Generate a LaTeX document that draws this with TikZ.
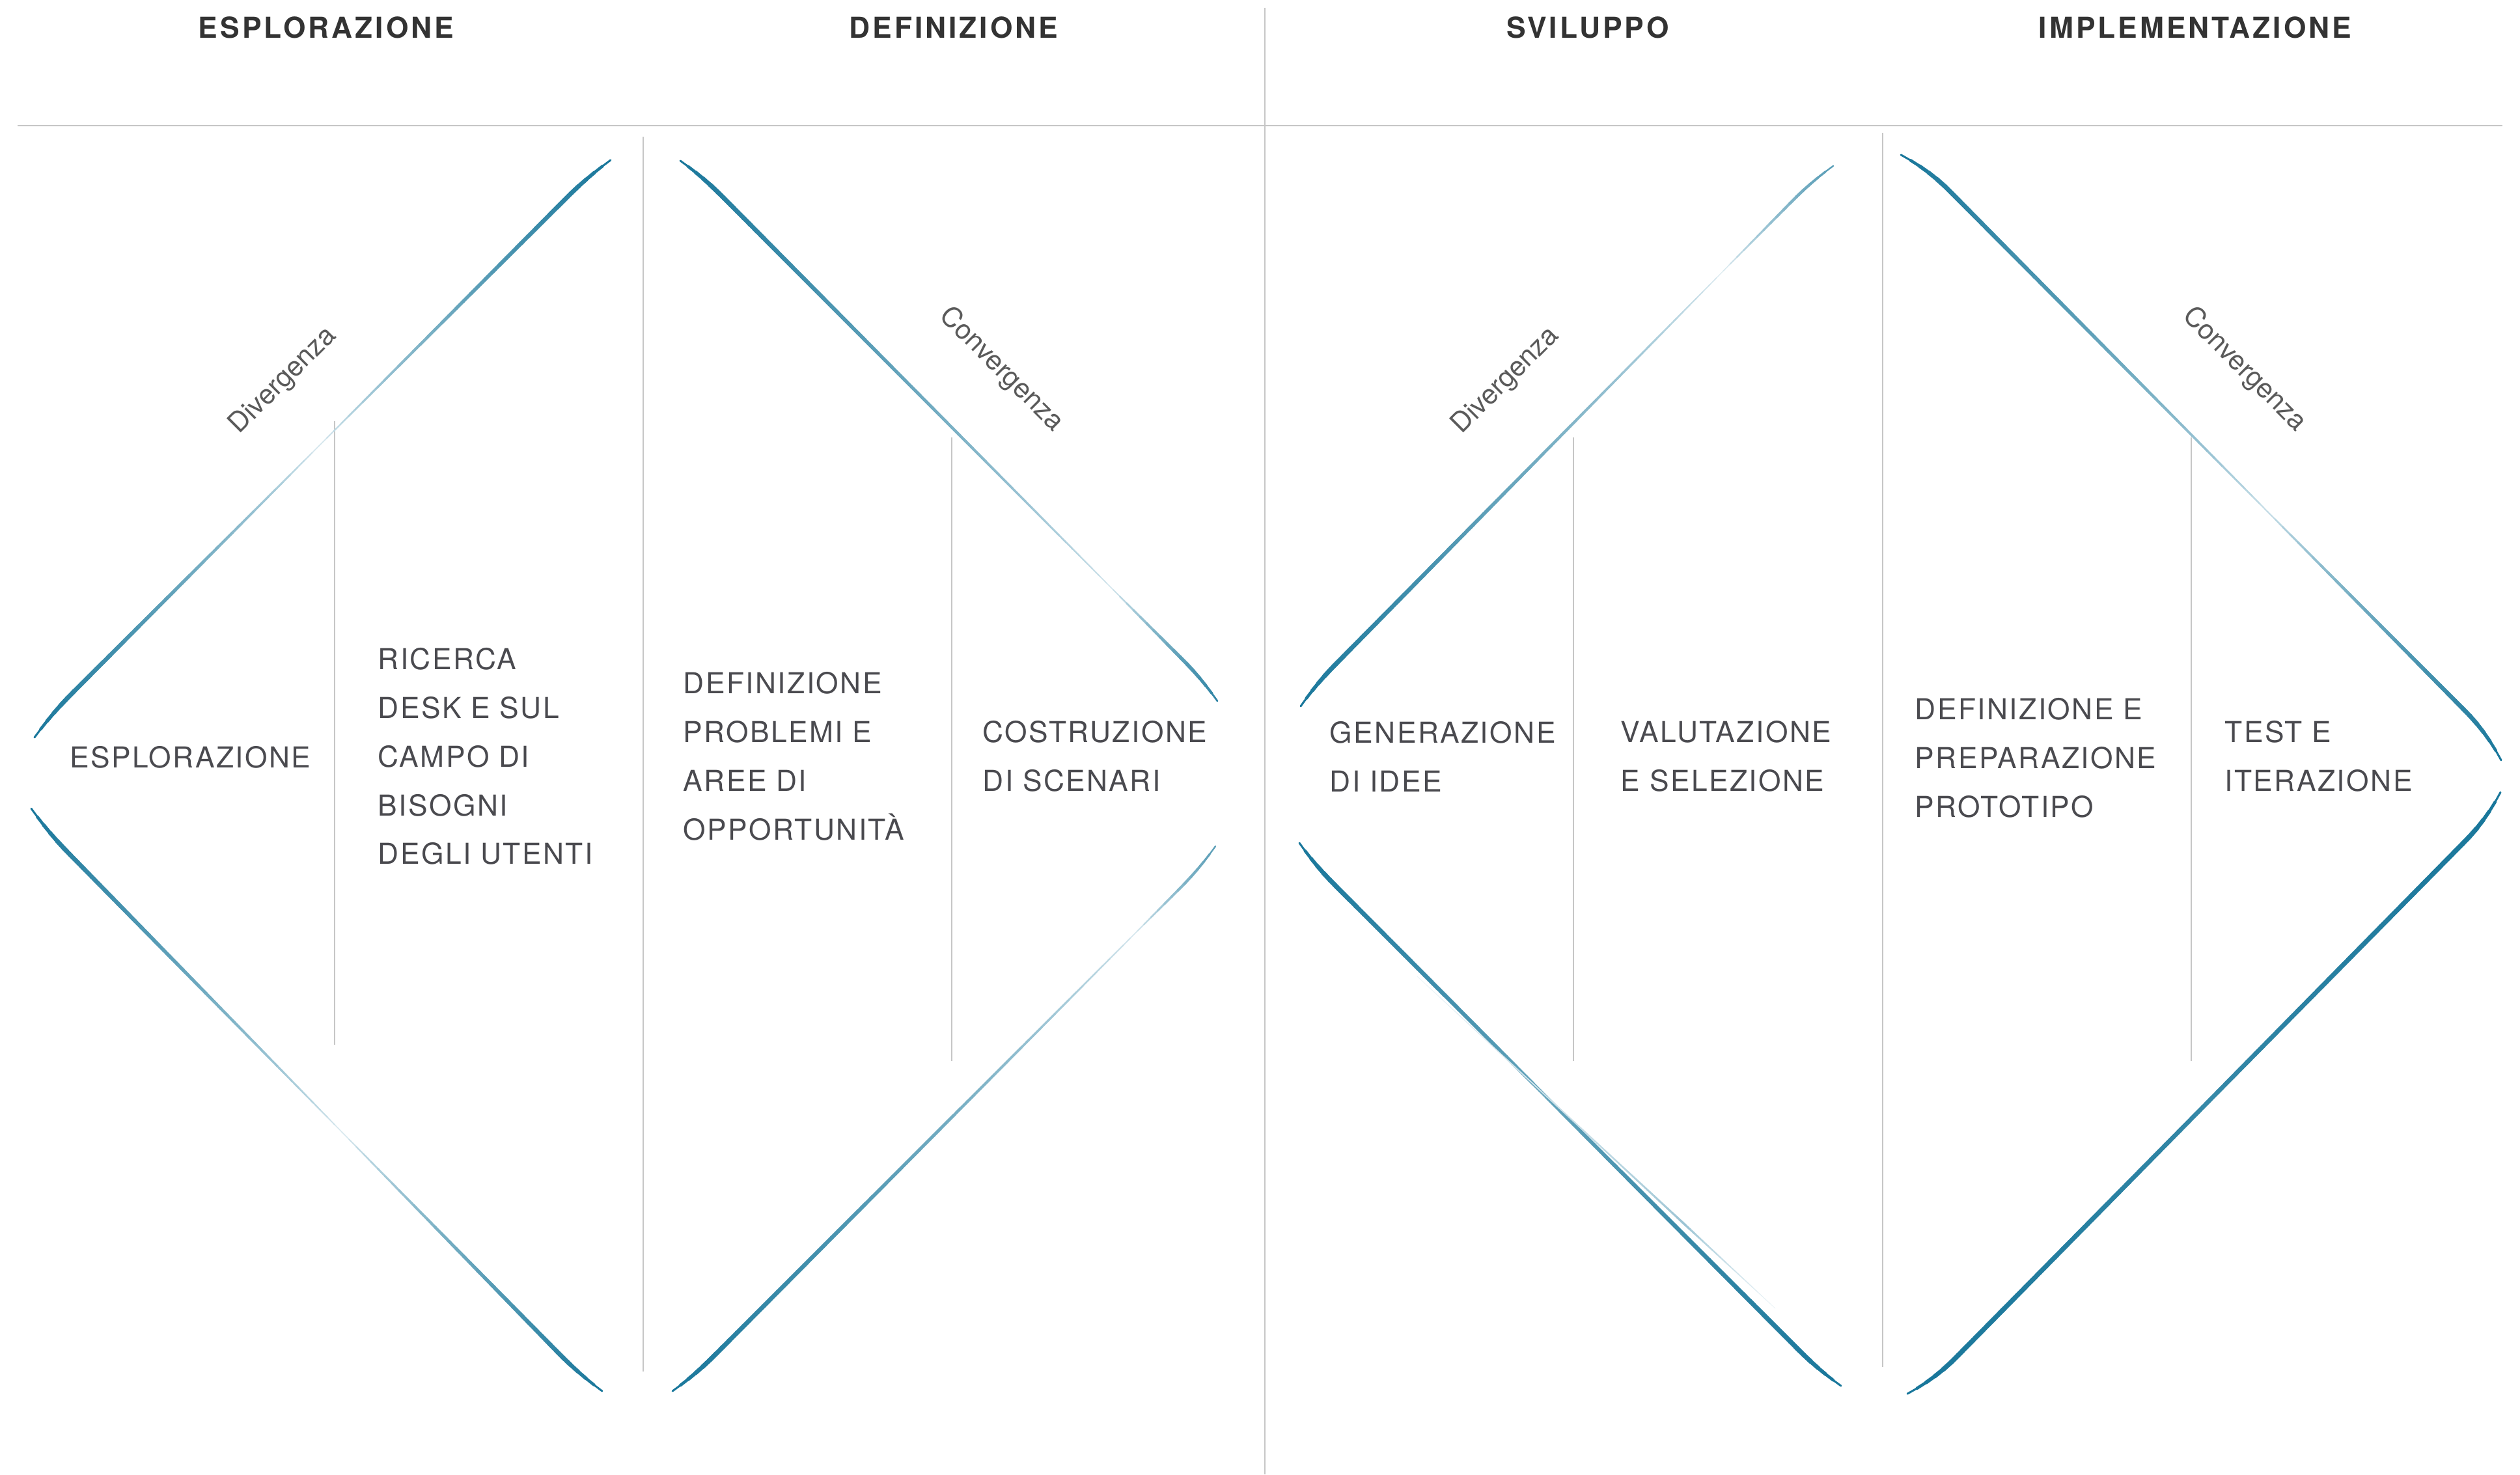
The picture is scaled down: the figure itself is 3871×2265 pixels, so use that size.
\documentclass[tikz,border=0pt]{standalone}
\usepackage{fontspec}
\setmainfont{TeX Gyre Heros}
\newfontfamily\headfont[LetterSpace=9]{TeX Gyre Heros}
\newfontfamily\stepfont[LetterSpace=5.5]{TeX Gyre Heros}
\usetikzlibrary{calc}
\definecolor{petrol}{RGB}{23,118,154}
\definecolor{rulegray}{RGB}{198,198,198}
\definecolor{ink}{RGB}{74,74,79}
\definecolor{headink}{RGB}{51,51,51}
\definecolor{noteink}{RGB}{90,90,90}
% tapered brush stroke: (start)(end)[start ink, low point, low ink, end ink, curl]
\def\brush(#1,#2)(#3,#4)[#5,#6,#7,#8,#9]{%
  \pgfmathsetmacro\bdx{#3-#1}%
  \pgfmathsetmacro\bdy{#4-#2}%
  \pgfmathsetmacro\blen{veclen(\bdx,\bdy)}%
  \pgfmathsetmacro\bnx{-\bdy/\blen}%
  \pgfmathsetmacro\bny{\bdx/\blen}%
  \foreach \i in {0,...,79}{%
    \pgfmathsetmacro\ta{\i/80}%
    \pgfmathsetmacro\tb{(\i+1)/80}%
    \pgfmathsetmacro\tc{(\i+0.5)/80}%
    \pgfmathsetmacro\amt{\tc<#6 ? #7+(#5-#7)*pow(max(0.0001,1-\tc/#6),0.7) : #7+(#8-#7)*pow(max(0.0001,(\tc-#6)/(1-#6)),0.7)}%
    \pgfmathsetmacro\tap{min(1,sqrt(\tc/0.06),sqrt((1-\tc)/0.06))}%
    \pgfmathsetmacro\lw{0.25+1.9*\amt*\tap}%
    \pgfmathsetmacro\cl{int(8+92*\amt)}%
    \pgfmathsetmacro\ua{max(0,1-\ta/0.07)}%
    \pgfmathsetmacro\va{max(0,1-(1-\ta)/0.07)}%
    \pgfmathsetmacro\oa{#9*(\ua*\ua+\va*\va)}%
    \pgfmathsetmacro\ub{max(0,1-\tb/0.07)}%
    \pgfmathsetmacro\vb{max(0,1-(1-\tb)/0.07)}%
    \pgfmathsetmacro\ob{#9*(\ub*\ub+\vb*\vb)}%
    \draw[line width=\lw pt, color=petrol!\cl!white, line cap=round]
      (#1+\ta*\bdx+\oa*\bnx, #2+\ta*\bdy+\oa*\bny) -- (#1+\tb*\bdx+\ob*\bnx, #2+\tb*\bdy+\ob*\bny);
  }%
}

\begin{document}
\begin{tikzpicture}[x=0.01cm, y=-0.01cm,
    headlbl/.style={text=headink, font=\headfont\bfseries\fontsize{12.6}{15}\selectfont, inner sep=0pt},
    steplbl/.style={text=ink, font=\stepfont\fontsize{12.6}{21.3}\selectfont, align=left, anchor=west, inner sep=0pt},
    phaselbl/.style={text=noteink, font=\fontsize{12}{14}\selectfont, inner sep=0pt},
    rulebar/.style={draw=rulegray, line width=0.7pt}]
		%%%%% START %%%%%
		\useasboundingbox (0,0) rectangle (3871,2265);
		
		\draw[rulebar] (27,193) -- (3844,193);
		\draw[rulebar] (1943,12) -- (1943,2265);
		\draw[rulebar] (988,210) -- (988,2107);
		\draw[rulebar] (2892,204) -- (2892,2100);
		
		\draw[rulebar] (514,647) -- (514,1605);
		\draw[rulebar] (1462,672) -- (1462,1630);
		\draw[rulebar] (2417,672) -- (2417,1630);
		\draw[rulebar] (3366,672) -- (3366,1630);
		
		\node[headlbl] (hEsplora) at (501,42) {ESPLORAZIONE};
		\node[headlbl] (hDefini) at (1465,42) {DEFINIZIONE};
		\node[headlbl] (hSvilup) at (2439,42) {SVILUPPO};
		\node[headlbl] (hImplem) at (3372,42) {IMPLEMENTAZIONE};
		
		% first diamond pair
		\brush(48,1128)(933,241)[1,0.5,0.08,1,7]
		\brush(43,1247)(920,2142)[1,0.55,0.06,1,-7]
		\brush(1050,242)(1875,1072)[1,0.8,0.08,0.9,7]
		\brush(1038,2142)(1872,1305)[1,0.85,0.08,0.7,-7]
		
		% second diamond pair
		\brush(1993,1080)(2811,250)[1,0.8,0.04,0.7,7]
		\brush(1991,1300)(2823,2134)[1,0.45,0.6,1,-7]
		\brush(2177,1500)(2727,2010)[0,0.75,0.4,0,0]
		\brush(2930,228)(3852,1158)[1,0.6,0.15,1,14]
		\brush(2940,2151)(3851,1227)[1,0.5,0.85,1,-14]
		
		\node[phaselbl, rotate=45] (divA) at (435,585) {Divergenza};
		\node[phaselbl, rotate=-45] (conA) at (1538,568) {Convergenza};
		\node[phaselbl, rotate=45] (divB) at (2313,585) {Divergenza};
		\node[phaselbl, rotate=-45] (conB) at (3447,568) {Convergenza};
		
		\node[steplbl] (sEsplora) at (107,1163) {ESPLORAZIONE};
		\node[steplbl] (sRicerca) at (580,1162) {RICERCA\\DESK E SUL\\CAMPO DI\\BISOGNI\\DEGLI UTENTI};
		\node[steplbl] (sProblemi) at (1049,1162) {DEFINIZIONE\\PROBLEMI E\\AREE DI\\OPPORTUNITÀ};
		\node[steplbl] (sScenari) at (1509,1162) {COSTRUZIONE\\DI SCENARI};
		\node[steplbl] (sIdee) at (2042,1162) {GENERAZIONE\\DI IDEE};
		\node[steplbl] (sSelez) at (2489,1162) {VALUTAZIONE\\E SELEZIONE};
		\node[steplbl] (sProto) at (2941,1164) {DEFINIZIONE E\\PREPARAZIONE\\PROTOTIPO};
		\node[steplbl] (sTest) at (3417,1162) {TEST E\\ITERAZIONE};
		%%%%% END %%%%%
\end{tikzpicture}
\end{document}
